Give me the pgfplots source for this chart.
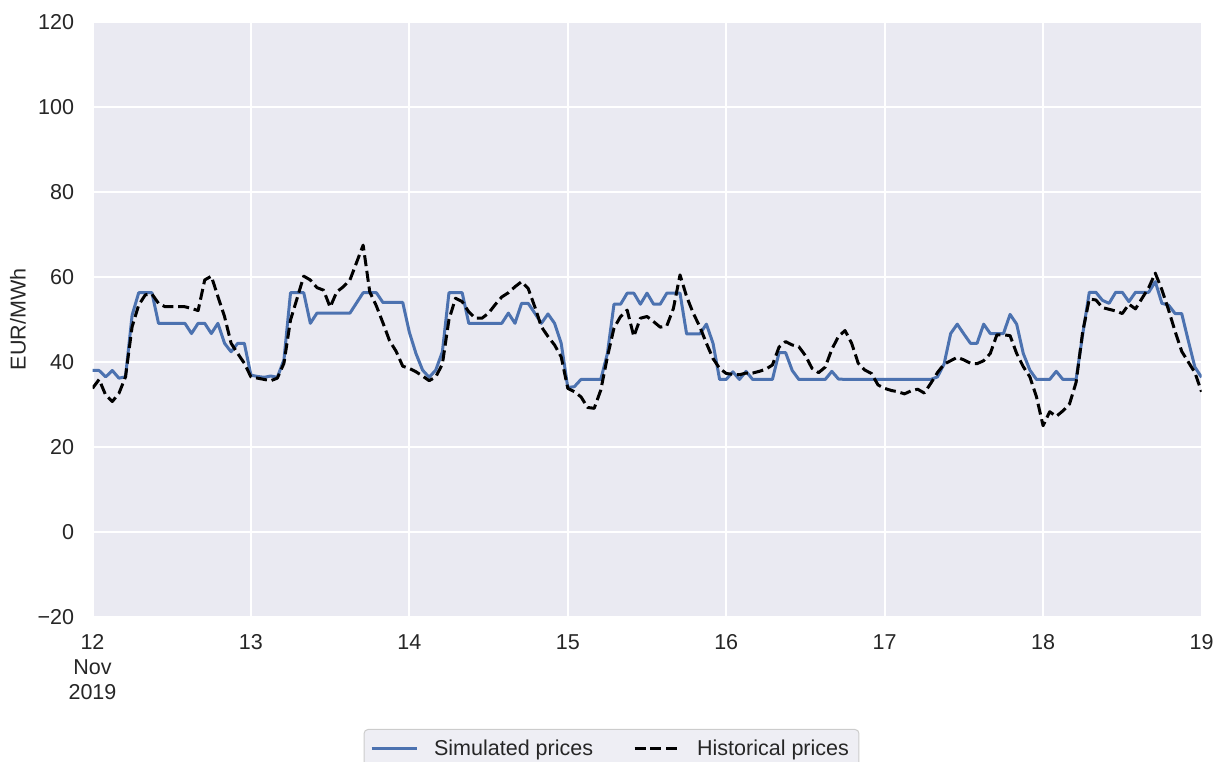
\documentclass[border=0pt]{standalone}
\usepackage{fontspec}
\setmainfont{Liberation Sans}
\usepackage{pgfplots}
\usepackage{pgfplotstable}
\pgfplotsset{compat=1.18}

\definecolor{simblue}{HTML}{4C72B0}
\definecolor{panel}{HTML}{EAEAF2}
\definecolor{ink}{HTML}{262626}
\definecolor{legfill}{HTML}{EEEEF4}
\definecolor{legedge}{HTML}{CCCCCC}

% Hourly prices, 12 Nov 2019 00:00 (h = 0) to 19 Nov 2019 00:00 (h = 168)
\pgfplotstableread{
h sim hist
0 38 33.8
1 38 35.9
2 36.5 32.2
3 38 30.7
4 36.2 32.6
5 36.5 36.5
6 51 48.3
7 56.3 53.4
8 56.3 55.8
9 56.3 56
10 49.1 53.8
11 49.1 53
12 49.1 53
13 49.1 53
14 49.1 53
15 46.7 52.6
16 49.1 52.1
17 49.1 59.3
18 46.7 60.2
19 49.1 55.4
20 44.4 50.7
21 42.4 44.4
22 44.4 42
23 44.4 39.7
24 36.9 36.5
25 36.6 36.2
26 36.4 35.9
27 36.7 35.6
28 36.4 36.2
29 40.5 39.7
30 56.3 49.9
31 56.3 55
32 56.3 60.2
33 49.1 59.3
34 51.5 57.5
35 51.5 56.9
36 51.5 52.9
37 51.5 56.5
38 51.5 57.7
39 51.5 59.3
40 53.9 63.4
41 56.3 67.5
42 56.3 56.5
43 56.3 53.2
44 54 49.2
45 54 45
46 54 42.5
47 54 39
48 47 38.5
49 42 37.7
50 38.1 36.7
51 36.4 35.6
52 38.1 36.5
53 42.4 39.5
54 56.3 50
55 56.3 55
56 56.3 54.2
57 49.1 51.8
58 49.1 50.3
59 49.1 50.3
60 49.1 51.5
61 49.1 53.5
62 49.1 55.3
63 51.5 56.3
64 49.1 57.7
65 53.8 58.9
66 53.8 57.3
67 51.5 53
68 49.1 48.3
69 51.3 46
70 49.1 44
71 44.4 41.2
72 34 33.8
73 34.2 33
74 35.9 31.8
75 35.9 29.3
76 35.9 29.1
77 35.9 33.4
78 42 41.2
79 53.6 48
80 53.6 50.7
81 56.2 52.2
82 56.2 46
83 53.6 50.3
84 56.2 50.7
85 53.6 49.5
86 53.6 48.2
87 56.2 48.5
88 56.2 52.6
89 56.2 60.5
90 46.6 55.4
91 46.6 51.5
92 46.6 48.3
93 48.9 44.4
94 44.4 40.8
95 35.9 38.5
96 35.9 37.3
97 37.7 37.1
98 35.9 37
99 37.8 37.4
100 35.9 37.4
101 35.9 37.8
102 35.9 38.3
103 35.9 39.3
104 42.2 43.5
105 42.2 44.8
106 38 44
107 35.9 43.6
108 35.9 41.5
109 35.9 38.5
110 35.9 37.5
111 35.9 38.8
112 37.8 43
113 36 46
114 35.9 47.4
115 35.9 44.4
116 35.9 39.7
117 35.9 38.1
118 35.9 37.3
119 35.9 34.6
120 35.9 33.8
121 35.9 33.3
122 35.9 33
123 35.9 32.5
124 35.9 33.2
125 35.9 33.6
126 35.9 32.7
127 35.9 35
128 36.5 37.5
129 39.5 39.5
130 46.7 40.3
131 48.9 41.1
132 46.6 40.5
133 44.4 39.7
134 44.4 39.6
135 48.9 40.3
136 46.7 42
137 46.7 46.4
138 46.7 46.4
139 51.2 46.2
140 48.9 42
141 42 38.9
142 38.1 36.5
143 35.9 31.8
144 35.9 25
145 35.9 28.3
146 37.8 27.2
147 35.9 28.5
148 35.9 30.1
149 35.9 35.2
150 46.5 47.1
151 56.4 54.8
152 56.4 54.6
153 54.5 52.8
154 53.8 52.4
155 56.4 52
156 56.4 51.4
157 54.2 53.6
158 56.4 52.5
159 56.4 55
160 56.4 57.5
161 58.9 60.9
162 53.8 57
163 53.4 52.3
164 51.4 47.2
165 51.4 42.5
166 45 40
167 38.8 37.5
168 36.4 33
}\prices

\begin{document}
\begin{tikzpicture}[font=\fontsize{10.8}{12.6}\selectfont]
\begin{axis}[
  name=ax, at={(0,0)}, anchor=south west,
  scale only axis, width=554.5bp, height=297.5bp,
  xmin=0, xmax=168, ymin=-20, ymax=120,
  axis background/.style={fill=panel},
  axis line style={draw=none},
  major tick length=0pt,
  grid=major,
  grid style={white, line width=1bp},
  xtick={0,24,...,168},
  xticklabels={{12\\Nov\\2019},13,14,15,16,17,18,19},
  xticklabel style={align=center, anchor=north, inner sep=0pt, yshift=-8.5bp, text=ink},
  ytick={-20,0,...,120},
  yticklabels={−20,0,20,40,60,80,100,120},
  yticklabel style={anchor=east, inner sep=0pt, xshift=-9bp, text=ink},
  ylabel={EUR/MWh},
  every axis y label/.style={at={(axis description cs:-0.0672,0.5)}, rotate=90, anchor=center, text=ink},
  legend columns=2,
  legend style={at={(axis description cs:0.468,-0.1882)}, anchor=north,
    fill=legfill, draw=legedge, rounded corners=2bp, line width=0.5bp,
    text=ink, inner xsep=3bp, inner ysep=3bp,
    /tikz/every even column/.append style={column sep=18bp}},
  legend image code/.code={\draw[#1] (0bp,0bp) -- (22.5bp,0bp); \path (28.5bp,0bp);},
]
\addplot[simblue, line width=1.5bp, line join=round] table[x=h, y=sim] {\prices};
\addlegendentry{Simulated prices}
\addplot[black, line width=1.5bp, line join=round, dash pattern=on 5.5bp off 2.4bp] table[x=h, y=hist] {\prices};
\addlegendentry{Historical prices}
\end{axis}
\pgfresetboundingbox
\useasboundingbox ([shift={(-46.25bp,-72.5bp)}]ax.south west) rectangle ([shift={(566.25bp,308.5bp)}]ax.south west);
\end{tikzpicture}
\end{document}
